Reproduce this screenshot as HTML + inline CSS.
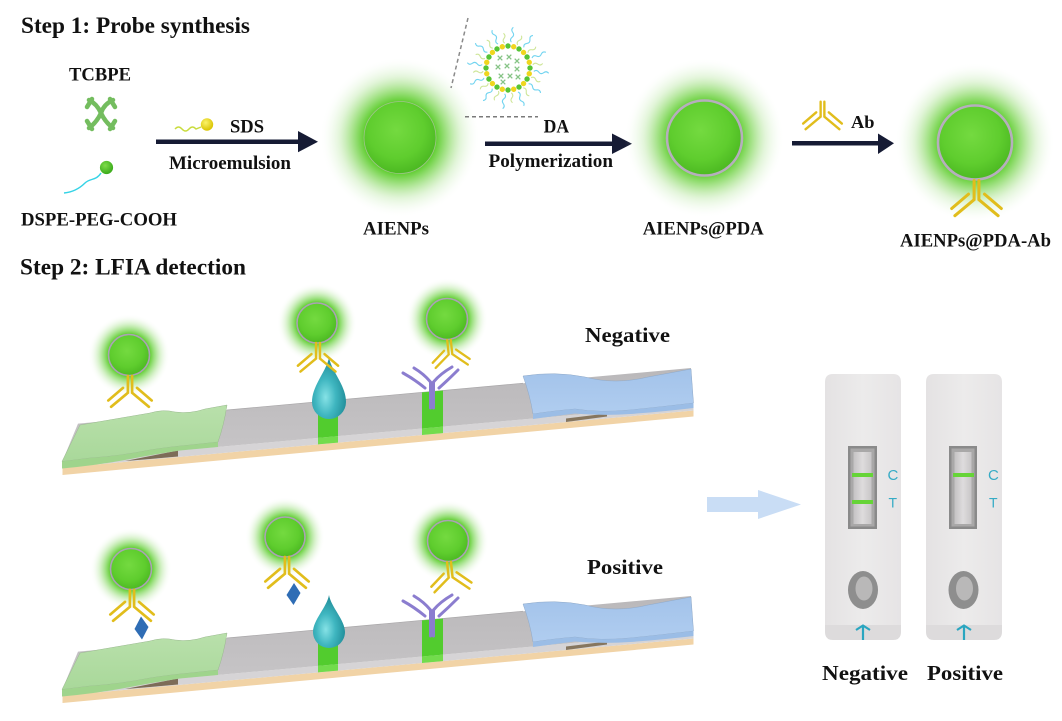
<!DOCTYPE html>
<html><head><meta charset="utf-8"><style>
html,body{margin:0;padding:0;background:#fff;}
svg{display:block;}
text{font-family:"Liberation Serif","Times New Roman",serif;font-weight:bold;fill:#111;}
.sans{font-family:"Liberation Sans",Arial,sans-serif;font-weight:normal;}
</style></head><body>
<svg width="1062" height="721" viewBox="0 0 1062 721" xmlns="http://www.w3.org/2000/svg">
<defs>
  <radialGradient id="gl">
    <stop offset="0.44" stop-color="#5ccc2a" stop-opacity="1"/>
    <stop offset="0.5" stop-color="#62ce33" stop-opacity="0.85"/>
    <stop offset="0.62" stop-color="#72d245" stop-opacity="0.55"/>
    <stop offset="0.76" stop-color="#9adc7a" stop-opacity="0.28"/>
    <stop offset="0.9" stop-color="#c5ecb5" stop-opacity="0.1"/>
    <stop offset="1" stop-color="#ffffff" stop-opacity="0"/>
  </radialGradient>
  <radialGradient id="gl2">
    <stop offset="0.5" stop-color="#5ccc2a" stop-opacity="1"/>
    <stop offset="0.6" stop-color="#66d03a" stop-opacity="0.7"/>
    <stop offset="0.75" stop-color="#88d864" stop-opacity="0.35"/>
    <stop offset="0.9" stop-color="#bfe8ac" stop-opacity="0.1"/>
    <stop offset="1" stop-color="#ffffff" stop-opacity="0"/>
  </radialGradient>
  <radialGradient id="sph" cx="0.45" cy="0.4" r="0.6">
    <stop offset="0" stop-color="#74da40"/>
    <stop offset="0.65" stop-color="#5fcd2e"/>
    <stop offset="1" stop-color="#4cb922"/>
  </radialGradient>
  <radialGradient id="drop" cx="0.4" cy="0.65" r="0.6">
    <stop offset="0" stop-color="#86e2e6"/>
    <stop offset="0.5" stop-color="#3fb6c0"/>
    <stop offset="1" stop-color="#23909c"/>
  </radialGradient>
  <radialGradient id="ball" cx="0.4" cy="0.35" r="0.6">
    <stop offset="0" stop-color="#7fdc4a"/>
    <stop offset="1" stop-color="#3fae1e"/>
  </radialGradient>
  <radialGradient id="yball" cx="0.4" cy="0.35" r="0.6">
    <stop offset="0" stop-color="#fbf36a"/>
    <stop offset="1" stop-color="#dcc708"/>
  </radialGradient>
  <linearGradient id="gtop" x1="0" y1="0" x2="0" y2="1">
    <stop offset="0" stop-color="#b9e0ab"/>
    <stop offset="1" stop-color="#a9d89a"/>
  </linearGradient>
  <linearGradient id="btop" x1="0" y1="0" x2="0" y2="1">
    <stop offset="0" stop-color="#a3c3ea"/>
    <stop offset="1" stop-color="#b0cdf0"/>
  </linearGradient>
  <linearGradient id="mtop" x1="0" y1="0" x2="0" y2="1">
    <stop offset="0" stop-color="#bab8ba"/>
    <stop offset="1" stop-color="#c8c6c8"/>
  </linearGradient>
  <linearGradient id="cas" x1="0" y1="0" x2="1" y2="0">
    <stop offset="0" stop-color="#e4e2e3"/>
    <stop offset="0.5" stop-color="#ecebeb"/>
    <stop offset="1" stop-color="#e6e4e5"/>
  </linearGradient>
  <linearGradient id="win" x1="0" y1="0" x2="1" y2="0">
    <stop offset="0" stop-color="#c4c2c3"/>
    <stop offset="0.5" stop-color="#dedcdd"/>
    <stop offset="1" stop-color="#c8c6c7"/>
  </linearGradient>

  <g id="ab" fill="none" stroke="#e1bd1c" stroke-width="1.9" stroke-linecap="round">
    <path d="M-1.5,0 V12 L-13.5,22"/>
    <path d="M1.5,0 V12 L13.5,22"/>
    <path d="M-5,8.5 L-15.5,17.5"/>
    <path d="M5,8.5 L15.5,17.5"/>
  </g>

  <g id="dp">
    <circle cx="530" cy="68" r="2.7" fill="#56c436"/>
    <circle cx="529.25" cy="73.7" r="2.7" fill="#f0d61e"/>
  </g>
  <g id="tp" fill="none" stroke-width="1.1">
    <path d="M534,68 q2.5,-2.5 5,0 t5,0 t5,0" stroke="#72d4f0" transform="rotate(7.5 508 68)"/>
    <path d="M533,68 q2.5,-2.5 5,0 t5,0" stroke="#cfe69a" transform="rotate(22.5 508 68)"/>
  </g>
  <path id="tx" d="M-2.3,-2.3 l4.6,4.6 M2.3,-2.3 l-4.6,4.6" stroke="#86c486" stroke-width="1.3" fill="none"/>

  <g id="strip">
    <polygon points="62.5,467.5 693.5,410.5 693.5,416.5 62.5,475" fill="#f1d3a6"/>
    <polygon points="62.5,461 693.5,404 693.5,410.5 62.5,467.5" fill="#d6d4d6"/>
    <polygon points="78,423.6 691,368 693.5,404 62.5,461" fill="url(#mtop)"/>
    <line x1="227" y1="410" x2="523" y2="383.2" stroke="#a9a7a9" stroke-width="0.7"/>
    <polygon points="125,461 178,450.5 178,456.5 150,459" fill="#7d6c58"/>
    <path d="M80,425 L150,413 Q163,409 175,412 Q190,414 205,409 L227,405 Q224,425 218,442 L190,445 Q168,447 150,450 Q120,456 90,458 L62,461.5 Z" fill="url(#gtop)" stroke="#9ab890" stroke-width="0.5"/>
    <path d="M62,461.5 L90,458 Q120,456 150,450 Q168,447 190,445 L218,442 L218,447 L180,450.5 Q150,455 125,460 Q95,465.5 62,468.5 Z" fill="#9fd48c"/>
    <path d="M523,376 Q555,371 585,377 Q615,385 648,377 L691,369 L693.5,403 Q660,407 630,410 Q600,413 575,409 Q552,411 533,414 Q530,395 523,376 Z" fill="url(#btop)" stroke="#8fa9c8" stroke-width="0.5"/>
    <polygon points="566,418.5 607,413.5 607,416.5 566,422" fill="#86765f"/>
    <path d="M533,414 Q552,411 575,409 Q600,413 630,410 Q660,407 693.5,403 L693.5,408 Q660,412 630,414 Q605,416 575,413.5 Q555,416 533,419 Z" fill="#9bbde6"/>
    <polygon points="318,402 338,400.2 338,436.1 318,437.9" fill="#52cc2e"/>
    <polygon points="318,437.9 338,436.1 338,442.6 318,444.4" fill="#72dc4c"/>
    <polygon points="422,392.4 443,390.5 443,426.6 422,428.5" fill="#52cc2e"/>
    <polygon points="422,428.5 443,426.6 443,433.1 422,435" fill="#72dc4c"/>
    <g stroke="#8b7dcf" stroke-width="3" fill="none" stroke-linecap="round">
      <path d="M430.5,408 V382 Q424,374 414,368"/>
      <path d="M433.5,408 V382 Q440,374 452,367"/>
      <path d="M425,388 Q414,379 403,373"/>
      <path d="M439,388 Q449,379 458,370"/>
    </g>
  </g>
</defs>

<rect width="1062" height="721" fill="#fff"/>

<text x="21" y="33" font-size="23" textLength="229" lengthAdjust="spacingAndGlyphs">Step 1: Probe synthesis</text>
<text x="69" y="80.5" font-size="19" textLength="62" lengthAdjust="spacingAndGlyphs">TCBPE</text>

<g fill="none" stroke="#74bd5f" stroke-width="4.5" stroke-linecap="round">
  <path d="M89,100 Q97,104 101,113 Q105,122 113,128"/>
  <path d="M113,100 Q104,104 101,113 Q97,122 89,128"/>
  <path d="M87,107 L92,99"/>
  <path d="M115,107 L110,99"/>
  <path d="M87,121 L92,129"/>
  <path d="M115,121 L110,129"/>
</g>

<path d="M101,173 C96,181 90,178 85,183 S74,192 64,193" fill="none" stroke="#35d3e6" stroke-width="1.4"/>
<circle cx="106.5" cy="167.5" r="6.6" fill="url(#ball)"/>
<text x="21" y="225.5" font-size="19" textLength="156" lengthAdjust="spacingAndGlyphs">DSPE-PEG-COOH</text>

<path d="M175,129 q3.5,-4 7,0 t7,0 t7,0 l5,-2" fill="none" stroke="#c9dc3e" stroke-width="1.4"/>
<circle cx="207" cy="124.5" r="6.2" fill="url(#yball)"/>
<text x="230" y="132.3" font-size="19" textLength="34" lengthAdjust="spacingAndGlyphs">SDS</text>
<rect x="156" y="139.5" width="144" height="4.5" fill="#161b34"/>
<polygon points="298,131 318,141.7 298,152.3" fill="#161b34"/>
<text x="169" y="169" font-size="19" textLength="122" lengthAdjust="spacingAndGlyphs">Microemulsion</text>

<circle cx="400" cy="137.5" r="80" fill="url(#gl)"/>
<circle cx="400" cy="137.5" r="36" fill="url(#sph)" stroke="#9fc48c" stroke-width="0.8"/>
<text x="363" y="234.5" font-size="19" textLength="66" lengthAdjust="spacingAndGlyphs">AIENPs</text>

<line x1="468" y1="18" x2="451" y2="88" stroke="#8a8a8a" stroke-width="1.5" stroke-dasharray="4,3"/>
<line x1="465" y1="116.7" x2="538" y2="116.7" stroke="#7a7a7a" stroke-width="1.5" stroke-dasharray="4,3"/>
<g>
  <use href="#tp"/>
  <use href="#tp" transform="rotate(30 508 68)"/>
  <use href="#tp" transform="rotate(60 508 68)"/>
  <use href="#tp" transform="rotate(90 508 68)"/>
  <use href="#tp" transform="rotate(120 508 68)"/>
  <use href="#tp" transform="rotate(150 508 68)"/>
  <use href="#tp" transform="rotate(180 508 68)"/>
  <use href="#tp" transform="rotate(210 508 68)"/>
  <use href="#tp" transform="rotate(240 508 68)"/>
  <use href="#tp" transform="rotate(270 508 68)"/>
  <use href="#tp" transform="rotate(300 508 68)"/>
  <use href="#tp" transform="rotate(330 508 68)"/>
  <use href="#dp"/>
  <use href="#dp" transform="rotate(30 508 68)"/>
  <use href="#dp" transform="rotate(60 508 68)"/>
  <use href="#dp" transform="rotate(90 508 68)"/>
  <use href="#dp" transform="rotate(120 508 68)"/>
  <use href="#dp" transform="rotate(150 508 68)"/>
  <use href="#dp" transform="rotate(180 508 68)"/>
  <use href="#dp" transform="rotate(210 508 68)"/>
  <use href="#dp" transform="rotate(240 508 68)"/>
  <use href="#dp" transform="rotate(270 508 68)"/>
  <use href="#dp" transform="rotate(300 508 68)"/>
  <use href="#dp" transform="rotate(330 508 68)"/>
  <use href="#tx" x="500" y="58"/>
  <use href="#tx" x="509" y="57"/>
  <use href="#tx" x="517" y="61"/>
  <use href="#tx" x="498" y="67"/>
  <use href="#tx" x="507" y="66"/>
  <use href="#tx" x="517" y="69"/>
  <use href="#tx" x="501" y="76"/>
  <use href="#tx" x="510" y="76"/>
  <use href="#tx" x="518" y="77"/>
  <use href="#tx" x="503" y="82"/>
</g>

<text x="543.6" y="132.3" font-size="19" textLength="25.5" lengthAdjust="spacingAndGlyphs">DA</text>
<rect x="485" y="141.5" width="129" height="4.5" fill="#161b34"/>
<polygon points="612,133.5 632,143.7 612,154" fill="#161b34"/>
<text x="488.5" y="167" font-size="19" textLength="124.5" lengthAdjust="spacingAndGlyphs">Polymerization</text>

<circle cx="704.5" cy="138" r="80" fill="url(#gl)"/>
<circle cx="704.5" cy="138" r="37.5" fill="url(#sph)" stroke="#b6aebd" stroke-width="2.6"/>
<text x="642.7" y="234.5" font-size="19" textLength="121" lengthAdjust="spacingAndGlyphs">AIENPs@PDA</text>

<use href="#ab" transform="translate(822.5,101.7) scale(1.25)"/>
<text x="851" y="128" font-size="18" textLength="23.5" lengthAdjust="spacingAndGlyphs">Ab</text>
<rect x="792" y="141" width="88" height="4.5" fill="#161b34"/>
<polygon points="878,133.5 894,143.3 878,154" fill="#161b34"/>

<circle cx="975" cy="142.5" r="80" fill="url(#gl)"/>
<circle cx="975" cy="142.5" r="37" fill="url(#sph)" stroke="#b6aebd" stroke-width="2.6"/>
<use href="#ab" transform="translate(976.5,180.5) scale(1.6)"/>
<text x="900" y="246.5" font-size="19" textLength="151" lengthAdjust="spacingAndGlyphs">AIENPs@PDA-Ab</text>

<text x="20" y="274.3" font-size="23" textLength="226" lengthAdjust="spacingAndGlyphs">Step 2: LFIA detection</text>

<use href="#strip"/>
<path d="M329,357 C331,371 346,385 346,402 A17,17 0 0 1 312,402 C312,385 327,371 329,357 Z" fill="url(#drop)"/>
<circle cx="129" cy="355" r="41" fill="url(#gl2)"/>
<circle cx="129" cy="355" r="20.5" fill="url(#sph)" stroke="#aaa2b4" stroke-width="1.6"/>
<use href="#ab" transform="translate(130,376) scale(1.4)"/>
<circle cx="317" cy="323" r="40" fill="url(#gl2)"/>
<circle cx="317" cy="323" r="20" fill="url(#sph)" stroke="#aaa2b4" stroke-width="1.6"/>
<use href="#ab" transform="translate(318,343) scale(1.3)"/>
<circle cx="447" cy="319" r="41" fill="url(#gl2)"/>
<circle cx="447" cy="319" r="20.5" fill="url(#sph)" stroke="#aaa2b4" stroke-width="1.6"/>
<use href="#ab" transform="translate(449,340) rotate(-6) scale(1.2)"/>
<text x="585" y="342" font-size="21" textLength="85" lengthAdjust="spacingAndGlyphs">Negative</text>

<use href="#strip" y="228"/>
<path d="M329,595 C331,607 345,620 345,632 A16,16 0 0 1 313,632 C313,620 327,607 329,595 Z" fill="url(#drop)"/>
<circle cx="131" cy="569" r="41" fill="url(#gl2)"/>
<circle cx="131" cy="569" r="20.5" fill="url(#sph)" stroke="#aaa2b4" stroke-width="1.6"/>
<use href="#ab" transform="translate(132,590) scale(1.4)"/>
<polygon points="141,616.5 148.5,627 142,639.5 134.5,629" fill="#2f6db5"/>
<circle cx="285" cy="537" r="40" fill="url(#gl2)"/>
<circle cx="285" cy="537" r="20" fill="url(#sph)" stroke="#aaa2b4" stroke-width="1.6"/>
<use href="#ab" transform="translate(287,557) scale(1.4)"/>
<polygon points="294,583 300.5,593 293.5,605 286.5,595" fill="#2f6db5"/>
<circle cx="448" cy="541" r="41" fill="url(#gl2)"/>
<circle cx="448" cy="541" r="20.5" fill="url(#sph)" stroke="#aaa2b4" stroke-width="1.6"/>
<use href="#ab" transform="translate(449,562) rotate(-6) scale(1.3)"/>
<text x="587" y="574" font-size="21" textLength="76" lengthAdjust="spacingAndGlyphs">Positive</text>

<polygon points="707,497 758,497 758,490 801,504.5 758,519 758,512 707,512" fill="#c9ddf5"/>

<g>
  <path d="M833,374 H893 Q901,374 901,382 V625 H825 V382 Q825,374 833,374 Z" fill="url(#cas)"/>
  <path d="M825,625 H901 V632 Q901,640 893,640 H833 Q825,640 825,632 Z" fill="#dddbdc"/>
  <rect x="848" y="446" width="29" height="83" fill="#8a8a8a"/>
  <rect x="850.5" y="448.5" width="24" height="78" fill="#a9a8a8"/>
  <rect x="853.5" y="452" width="18" height="72" fill="url(#win)"/>
  <rect x="852" y="473" width="21" height="4" fill="#66d437"/>
  <rect x="852" y="500" width="21" height="4" fill="#66d437"/>
  <text class="sans" x="887.5" y="480" font-size="15" style="fill:#36abc5">C</text>
  <text class="sans" x="888.5" y="507.5" font-size="14" style="fill:#36abc5">T</text>
  <ellipse cx="863" cy="590" rx="15" ry="19" fill="#8e8e8e"/>
  <ellipse cx="864" cy="588.5" rx="8.5" ry="12" fill="#b9b8b8"/>
  <path d="M856,630 L863,625.5 L870,630 M863,625.5 V640" fill="none" stroke="#2aa6c0" stroke-width="2.2"/>
</g>
<g>
  <path d="M934,374 H994 Q1002,374 1002,382 V625 H926 V382 Q926,374 934,374 Z" fill="url(#cas)"/>
  <path d="M926,625 H1002 V632 Q1002,640 994,640 H934 Q926,640 926,632 Z" fill="#dddbdc"/>
  <rect x="949" y="446" width="28" height="83" fill="#8a8a8a"/>
  <rect x="951.5" y="448.5" width="23" height="78" fill="#a9a8a8"/>
  <rect x="954.5" y="452" width="17" height="72" fill="url(#win)"/>
  <rect x="953" y="473" width="21" height="4" fill="#66d437"/>
  <text class="sans" x="988" y="480" font-size="15" style="fill:#36abc5">C</text>
  <text class="sans" x="989" y="507.5" font-size="14" style="fill:#36abc5">T</text>
  <ellipse cx="963.5" cy="590" rx="15" ry="19" fill="#8e8e8e"/>
  <ellipse cx="964.5" cy="588.5" rx="8.5" ry="12" fill="#b9b8b8"/>
  <path d="M957,630 L964,625.5 L971,630 M964,625.5 V640" fill="none" stroke="#2aa6c0" stroke-width="2.2"/>
</g>
<text x="822" y="680" font-size="21" textLength="86" lengthAdjust="spacingAndGlyphs">Negative</text>
<text x="927" y="680" font-size="21" textLength="76" lengthAdjust="spacingAndGlyphs">Positive</text>
</svg>
</body></html>
